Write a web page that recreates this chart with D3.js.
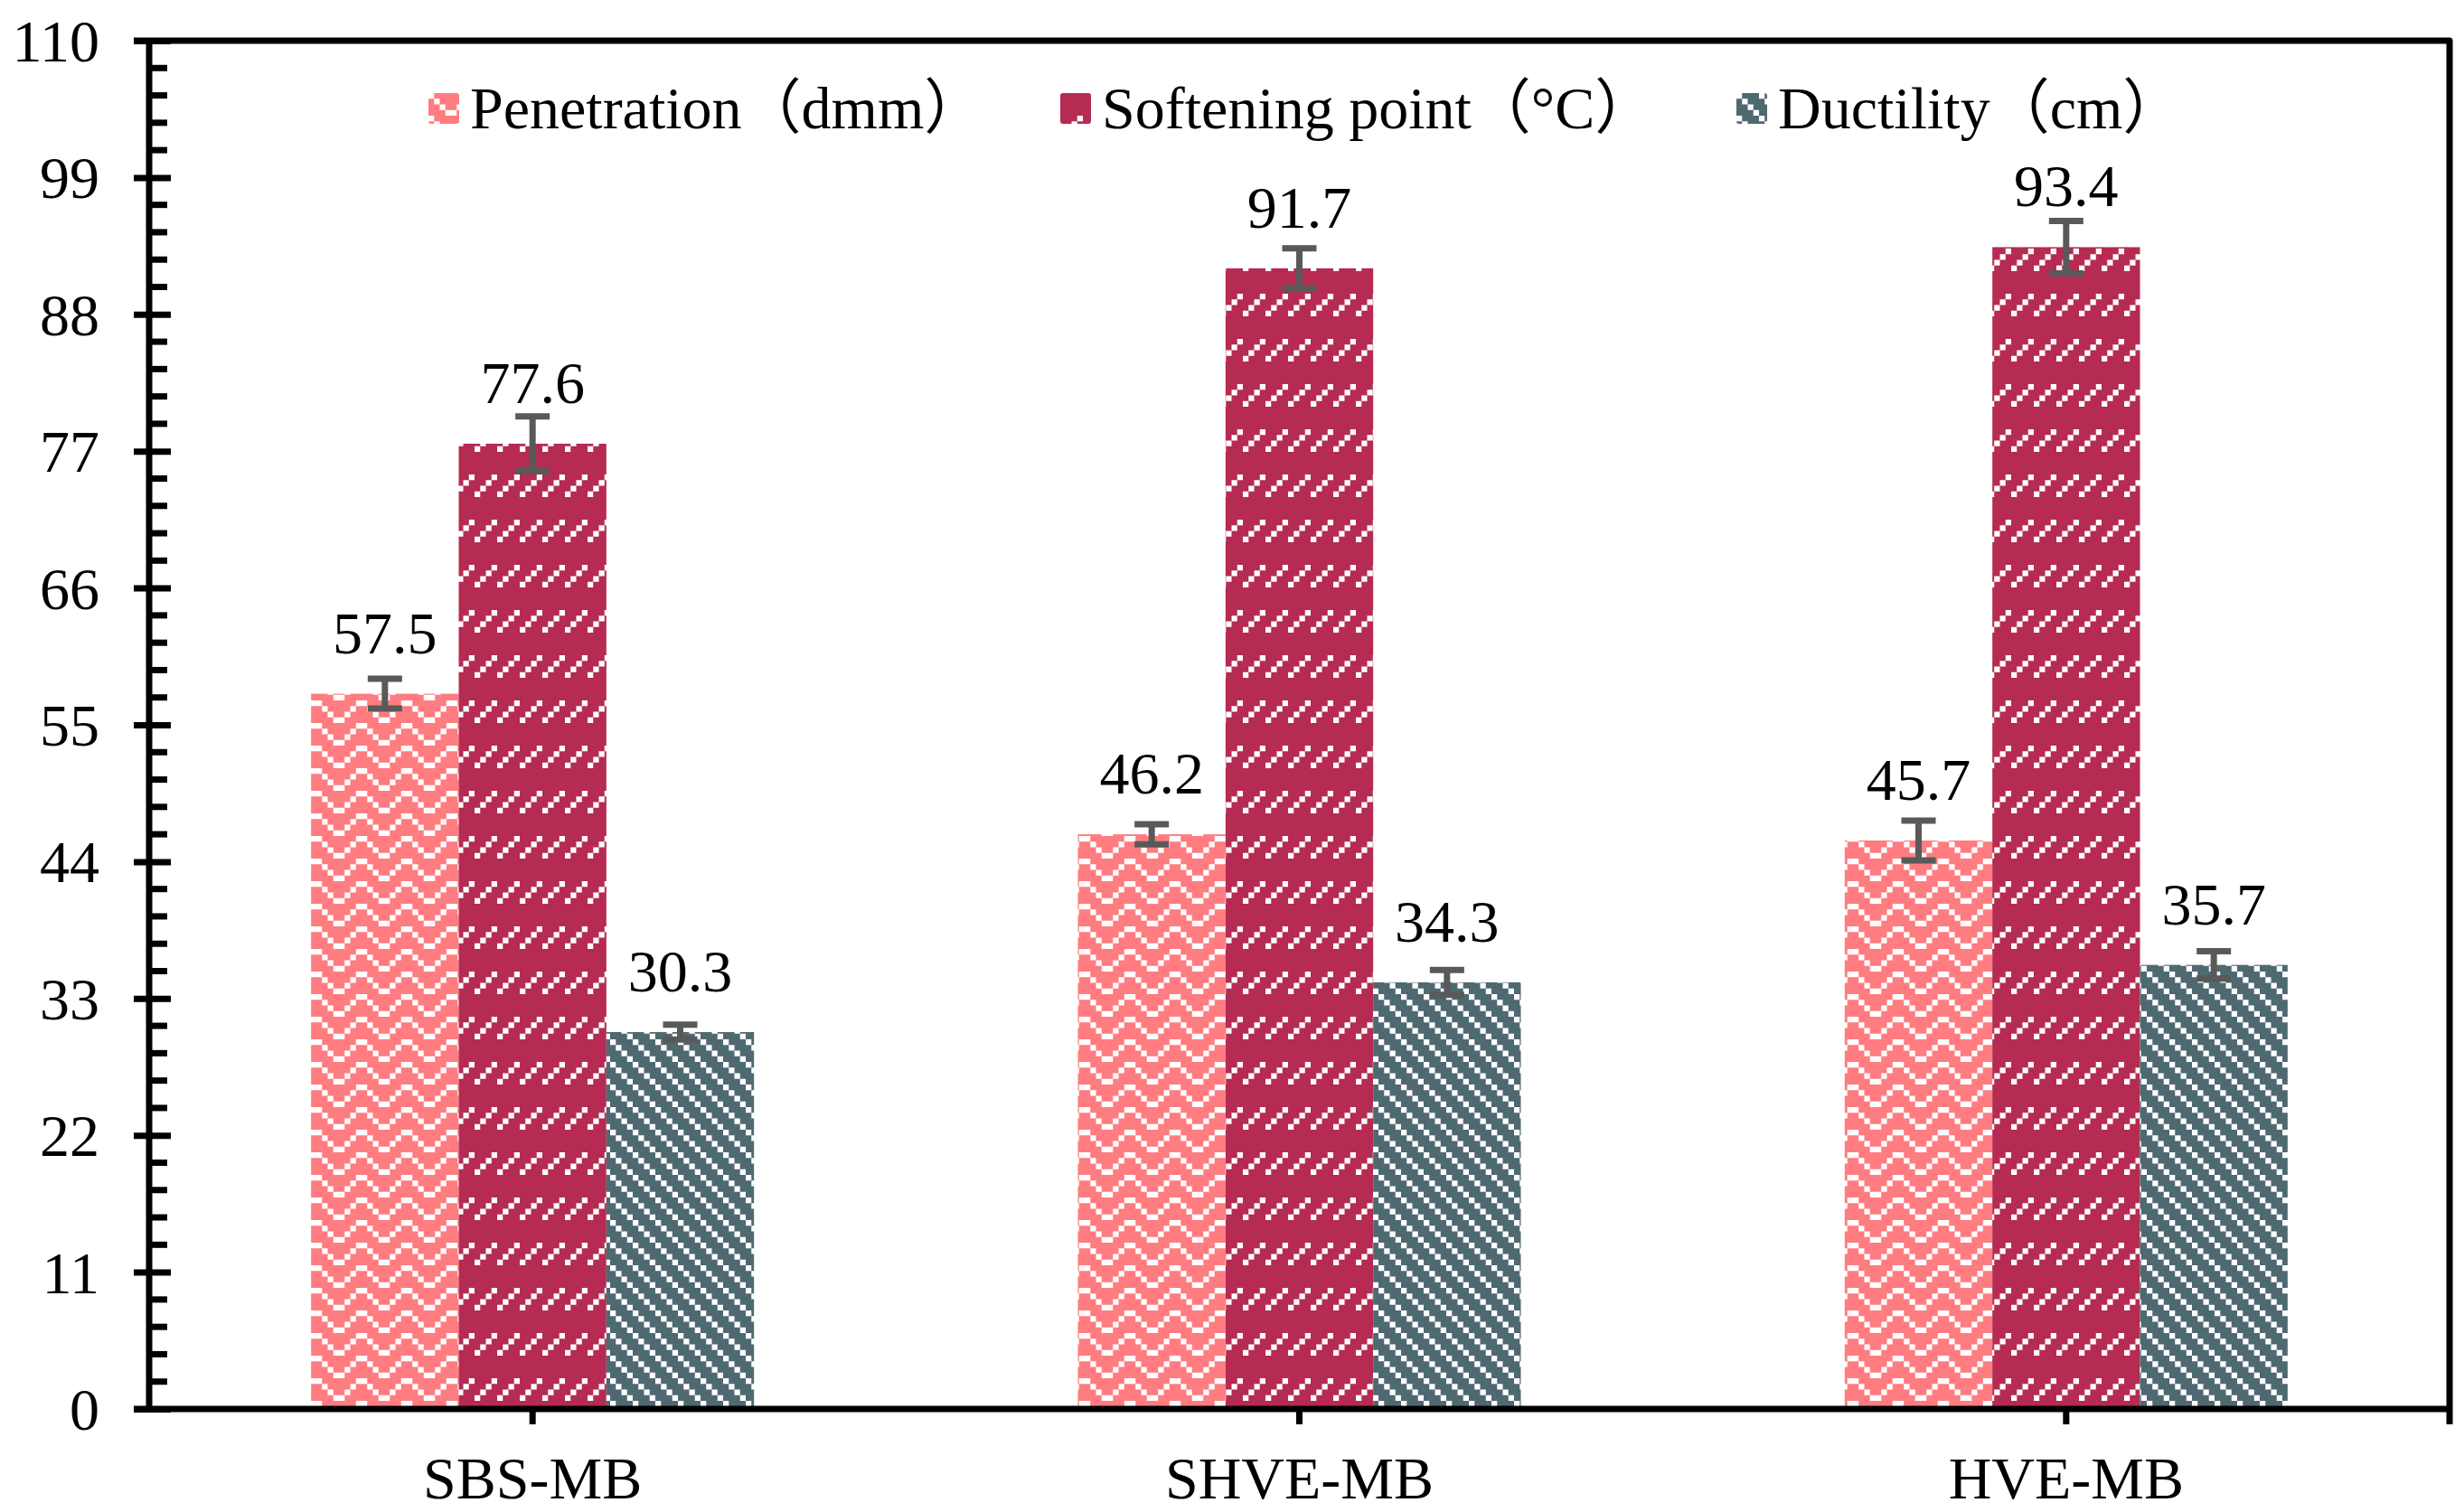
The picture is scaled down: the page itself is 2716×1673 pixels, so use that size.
<!DOCTYPE html>
<html lang="en">
  <head>
    <meta charset="UTF-8" />
    <title>Binder properties</title>
    <script src="https://d3js.org/d3.v7.min.js"></script>
    <style>
      body { margin: 0; background: #fff; }
      text { font-family: "Liberation Serif", "Times New Roman", "Noto Sans CJK SC", serif; fill: #000; }
    </style>
  </head>
  <body>
    <svg width="2716" height="1673"></svg>
    <script>
      // Data
      const categories = ["SBS-MB", "SHVE-MB", "HVE-MB"];
      const seriesNames = ["Penetration（dmm）", "Softening point（°C）", "Ductility（cm）"];
      const penetration = [57.5, 46.2, 45.7];
      const softening = [77.6, 91.7, 93.4];
      const ductility = [30.3, 34.3, 35.7];
      const penetrationErr = [1.2, 0.8, 1.6];
      const softeningErr = [2.2, 1.6, 2.1];
      const ductilityErr = [0.6, 1.0, 1.1];
      const yTicks = [0, 11, 22, 33, 44, 55, 66, 77, 88, 99, 110];

      const colors = ["#FF7C80", "#B52B52", "#4F6971"];
      const patternIds = ["pZig", "pDash", "pDiag"];
      const values = [penetration, softening, ductility];
      const errors = [penetrationErr, softeningErr, ductilityErr];

      const svg = d3.select("svg");
      const plotLeft = 165, plotRight = 2710, plotTop = 45, plotBottom = 1559;

      // Pattern fills (white on colour, pixel size ~6.25)
      const px = 6.25;
      const defs = svg.append("defs");
      function makePattern(id, color, w, h, cells) {
        const p = defs.append("pattern").attr("id", id)
          .attr("patternUnits", "userSpaceOnUse")
          .attr("width", w * px).attr("height", h * px);
        p.append("rect").attr("width", w * px).attr("height", h * px).attr("fill", color);
        p.selectAll("rect.c").data(cells).enter().append("rect").attr("class", "c")
          .attr("x", (d) => d[0] * px).attr("y", (d) => d[1] * px)
          .attr("width", px).attr("height", px).attr("fill", "#fff");
      }
      makePattern("pZig", colors[0], 8, 4, [[0,0],[7,0],[1,1],[6,1],[2,2],[5,2],[3,3],[4,3]]);
      makePattern("pDash", colors[1], 4, 8, [[3,4],[2,5],[1,6],[0,7]]);
      makePattern("pDiag", colors[2], 4, 4, [[0,0],[1,1],[2,2],[3,3]]);

      // Scales
      const x0 = d3.scaleBand().domain(categories).range([plotLeft, plotRight]);
      const groupW = 490;
      const x1 = d3.scaleBand().domain(d3.range(3)).range([0, groupW]);
      const y = d3.scaleLinear().domain([0, 110]).range([plotBottom, plotTop]);

      const bars = [];
      categories.forEach((c, i) => {
        for (let s = 0; s < 3; s++) {
          bars.push({ cat: c, s: s, v: values[s][i], e: errors[s][i] });
        }
      });
      const bx = (d) => x0(d.cat) + x0.bandwidth() / 2 - groupW / 2 + x1(d.s);

      // Bars
      svg.append("g").selectAll("rect").data(bars).enter().append("rect")
        .attr("x", bx)
        .attr("y", (d) => y(d.v))
        .attr("width", x1.bandwidth())
        .attr("height", (d) => y(0) - y(d.v))
        .attr("fill", (d) => "url(#" + patternIds[d.s] + ")");

      // Error bars
      const eb = svg.append("g").attr("stroke", "#595959").attr("stroke-width", 7);
      bars.forEach((d) => {
        const cx = bx(d) + x1.bandwidth() / 2;
        eb.append("line").attr("x1", cx).attr("x2", cx).attr("y1", y(d.v + d.e)).attr("y2", y(d.v - d.e));
        eb.append("line").attr("x1", cx - 19).attr("x2", cx + 19).attr("y1", y(d.v + d.e)).attr("y2", y(d.v + d.e));
        eb.append("line").attr("x1", cx - 19).attr("x2", cx + 19).attr("y1", y(d.v - d.e)).attr("y2", y(d.v - d.e));
      });

      // Value labels
      svg.append("g").selectAll("text").data(bars).enter().append("text")
        .attr("x", (d) => bx(d) + x1.bandwidth() / 2)
        .attr("y", (d) => y(d.v) - 45)
        .attr("text-anchor", "middle")
        .style("font-size", "66px")
        .text((d) => d.v.toFixed(1));

      // Frame: top and right borders
      svg.append("path")
        .attr("d", `M${plotLeft - 17},${plotTop} H${plotRight} V${plotBottom + 17}`)
        .attr("fill", "none").attr("stroke", "#000").attr("stroke-width", 7)
        .attr("stroke-linejoin", "round");

      // Y axis with crossing major ticks and inside minor ticks
      const yAxis = svg.append("g").attr("transform", `translate(${plotLeft},0)`)
        .call(d3.axisLeft(y).tickValues(yTicks).tickSizeOuter(0).tickSizeInner(17).tickPadding(0));
      yAxis.select(".domain").remove();
      yAxis.selectAll(".tick line").attr("x1", 24).attr("x2", -17).attr("stroke", "#000").attr("stroke-width", 7);
      yAxis.selectAll(".tick text").attr("x", -55).attr("dy", "0.34em").style("font-size", "66px");
      const minors = [];
      for (let t = 0; t < 110; t += 11) for (let k = 1; k < 5; k++) minors.push(t + k * 2.2);
      yAxis.selectAll("line.minor").data(minors).enter().append("line").attr("class", "minor")
        .attr("x1", 0).attr("x2", 20).attr("y1", (d) => y(d)).attr("y2", (d) => y(d))
        .attr("stroke", "#000").attr("stroke-width", 7);
      svg.append("line").attr("x1", plotLeft).attr("x2", plotLeft).attr("y1", plotTop).attr("y2", plotBottom)
        .attr("stroke", "#000").attr("stroke-width", 7);

      // X axis
      const xAxis = svg.append("g").attr("transform", `translate(0,${plotBottom})`)
        .call(d3.axisBottom(x0).tickSizeOuter(0).tickSizeInner(17));
      xAxis.select(".domain").remove();
      xAxis.selectAll(".tick line").attr("stroke", "#000").attr("stroke-width", 7);
      xAxis.selectAll(".tick text").attr("y", 99).attr("dy", 0).style("font-size", "66px");
      svg.append("line").attr("x1", plotLeft - 17).attr("x2", plotRight).attr("y1", plotBottom).attr("y2", plotBottom)
        .attr("stroke", "#000").attr("stroke-width", 7);
      svg.selectAll("g.tick text").attr("font-family", null).attr("font-size", null);

      // Legend
      const legendX = [474, 1173, 1921];
      const lg = svg.append("g").selectAll("g").data(seriesNames).enter().append("g")
        .attr("transform", (d, i) => `translate(${legendX[i]},103)`);
      lg.append("rect").attr("width", 34).attr("height", 34).attr("rx", 3)
        .attr("fill", (d, i) => "url(#" + patternIds[i] + ")");
      lg.append("text").attr("x", 46).attr("y", 39).style("font-size", "66px").text((d) => d);
    </script>
  </body>
</html>
